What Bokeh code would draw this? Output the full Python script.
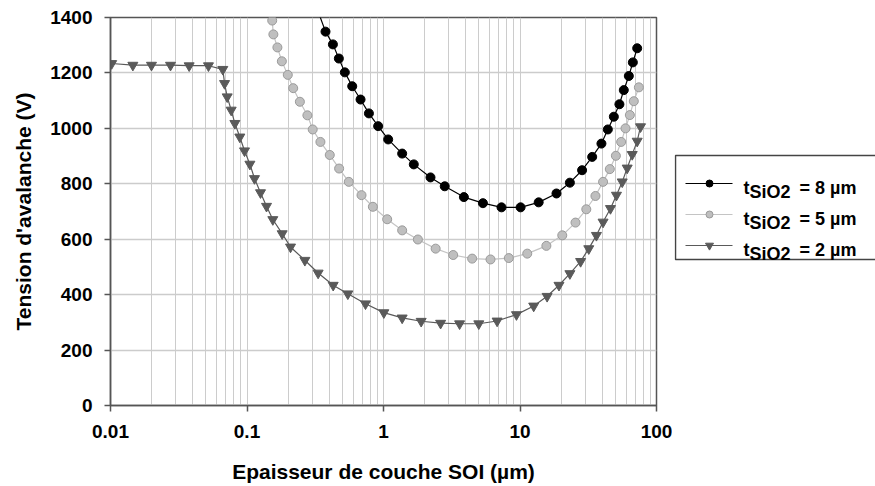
from bokeh.plotting import figure
from bokeh.models import Range1d, FixedTicker
from bokeh.layouts import row
from bokeh.embed import file_html
from bokeh.resources import INLINE
from bokeh.core.properties import value

# ---- data ----
x_8um = [0.33, 0.376, 0.426, 0.471, 0.521, 0.590, 0.679, 0.782, 0.914, 1.082, 1.370, 1.667,
         2.21, 2.81, 3.88, 5.35, 7.32, 10.1, 13.7, 18.5, 23.2, 28.5, 33.8, 39.5, 44.0, 48.7,
         53.5, 57.6, 62.7, 67.1, 72.2]
v_8um = [1425, 1349, 1303, 1252, 1202, 1152, 1104, 1054, 1008, 960, 909, 870,
         823, 791, 752, 730, 715, 715, 733, 765, 804, 849, 897, 945, 996, 1042,
         1087, 1138, 1189, 1238, 1289]

x_5um = [0.153, 0.156, 0.167, 0.180, 0.199, 0.218, 0.244, 0.277, 0.303, 0.345, 0.404, 0.473,
         0.557, 0.690, 0.836, 1.064, 1.370, 1.786, 2.41, 3.24, 4.46, 6.08, 8.28, 11.3, 15.6,
         20.4, 25.5, 30.6, 35.7, 40.6, 45.5, 50.4, 55.1, 59.3, 63.8, 68.2, 74.3]
v_5um = [1389, 1339, 1292, 1242, 1193, 1145, 1096, 1047, 996, 951, 904, 855,
         807, 759, 717, 672, 632, 599, 566, 543, 530, 527, 532, 548, 576,
         614, 660, 708, 756, 807, 853, 901, 951, 1000, 1048, 1098, 1148]

x_2um = [0.0102, 0.01458, 0.01996, 0.02752, 0.0377, 0.0522, 0.0665, 0.0685, 0.0716, 0.0766,
         0.0815, 0.0886, 0.0959, 0.105, 0.1135, 0.1256, 0.139, 0.1546, 0.181, 0.2084, 0.2654,
         0.332, 0.428, 0.548, 0.738, 1.006, 1.370, 1.888, 2.62, 3.61, 4.99, 6.80, 9.42, 12.6,
         15.8, 19.3, 23.2, 27.8, 31.9, 36.3, 40.6, 46.0, 50.9, 56.1, 61.0, 66.4, 72.2, 76.4]
v_2um = [1234, 1228, 1228, 1228, 1226, 1226, 1213, 1162, 1114, 1066,
         1018, 969, 919, 871, 819, 768, 719, 671, 620, 572, 524,
         478, 434, 403, 367, 335, 316, 304, 297, 295, 295, 305, 328, 359,
         394, 434, 476, 520, 566, 614, 662, 711, 759, 807, 857, 906, 954, 1006]

x_ticks = [0.01, 0.1, 1.0, 10.0, 100.0]
x_tick_labels = ["0.01", "0.1", "1", "10", "100"]
y_ticks = [0, 200, 400, 600, 800, 1000, 1200, 1400]

series_labels = ["8 µm", "5 µm", "2 µm"]

FONT = "Liberation Sans"
TOP, BOTTOM = 17, 81   # borders shared by both panels

p = figure(width=672, height=486, x_axis_type="log",
           x_range=Range1d(0.01, 100), y_range=Range1d(0, 1400),
           output_backend="svg", toolbar_location=None,
           min_border_left=110, min_border_right=16,
           min_border_top=TOP, min_border_bottom=BOTTOM)
p.title.visible = False
p.background_fill_color = "white"
p.border_fill_color = "white"
p.outline_line_color = "#555555"
p.outline_line_width = 1.5

minor = [k * 10.0 ** e for e in range(-2, 2) for k in range(2, 10)]
p.xaxis.ticker = FixedTicker(ticks=x_ticks, minor_ticks=minor)
p.xaxis.major_label_overrides = {t: l for t, l in zip(x_ticks, x_tick_labels)}
p.yaxis.ticker = FixedTicker(ticks=y_ticks)

p.xgrid.grid_line_color = "#cccccc"
p.xgrid.minor_grid_line_color = "#cccccc"
p.xgrid.grid_line_width = 1
p.xgrid.minor_grid_line_width = 1
p.ygrid.grid_line_color = "#cccccc"
p.ygrid.grid_line_width = 1.5

for ax in (p.xaxis[0], p.yaxis[0]):
    ax.axis_line_color = "#555555"
    ax.axis_line_width = 1.5
    ax.major_tick_line_color = "#555555"
    ax.major_tick_line_width = 1.5
    ax.major_tick_out = 6
    ax.major_tick_in = 0
    ax.minor_tick_line_color = None
    ax.major_label_text_font = FONT
    ax.major_label_text_font_style = "bold"
    ax.major_label_text_font_size = "19px"
    ax.major_label_text_color = "black"
    ax.major_label_standoff = 12
    ax.axis_label_text_font = FONT
    ax.axis_label_text_font_style = "bold"
    ax.axis_label_text_color = "black"

p.xaxis.major_label_standoff = 13
p.xaxis.axis_label = "Epaisseur de couche SOI (µm)"
p.xaxis.axis_label_text_font_size = "21px"
p.xaxis.axis_label_standoff = 19
p.yaxis.axis_label = "Tension d'avalanche (V)"
p.yaxis.axis_label_text_font_size = "21px"
p.yaxis.axis_label_standoff = 12

# series
p.line(x_8um, v_8um, line_color="black", line_width=1.2)
p.scatter(x_8um, v_8um, marker="circle", size=9, fill_color="black", line_color="black")

p.line(x_5um, v_5um, line_color="#c4c4c4", line_width=1.2)
p.scatter(x_5um, v_5um, marker="circle", size=9, fill_color="#bfbfbf", line_color="#9a9a9a")

p.line(x_2um, v_2um, line_color="#5a5a5a", line_width=1.2)
p.scatter(x_2um, v_2um, marker="inverted_triangle", size=10, fill_color="#5a5a5a",
          line_color="#5a5a5a")

# ---- legend panel (its frame spans the same screen rows as the plot frame;
#      data units of this panel equal window pixels) ----
LW = 203
lg = figure(width=LW, height=486,
            x_range=Range1d(2, LW), y_range=Range1d(486 - BOTTOM, TOP),
            output_backend="svg", toolbar_location=None,
            min_border_left=2, min_border_right=0,
            min_border_top=TOP, min_border_bottom=BOTTOM,
            x_axis_location=None, y_axis_location=None)
lg.title.visible = False
lg.grid.visible = False
lg.outline_line_color = None
lg.background_fill_color = "white"
lg.border_fill_color = "white"

lg.quad(left=3, right=240, top=155, bottom=259, fill_color=None,
        line_color="#444444", line_width=1.5)

styles = [
    dict(marker="circle", fill="black", edge="black", line="black", size=7),
    dict(marker="circle", fill="#bfbfbf", edge="#9a9a9a", line="#c4c4c4", size=7),
    dict(marker="inverted_triangle", fill="#5a5a5a", edge="#5a5a5a", line="#5a5a5a", size=8),
]
rows_y = [183, 214, 245]
for ry, st, lab in zip(rows_y, styles, series_labels):
    lg.line([13, 60], [ry, ry], line_color=st["line"], line_width=1.2)
    lg.scatter([37], [ry], marker=st["marker"], size=st["size"],
               fill_color=st["fill"], line_color=st["edge"])
    common = dict(text_font=value(FONT), text_font_style="bold",
                  text_font_size="18px", text_color="black",
                  text_baseline="alphabetic", text_align="left")
    lg.text([71], [ry + 4], text=["t"], **common)
    lg.text([77], [ry + 8], text=["SiO2"], **common)
    lg.text([127], [ry + 4], text=["= " + lab], **common)

layout = row(p, lg)
open("out.html", "w").write(file_html(layout, INLINE))
